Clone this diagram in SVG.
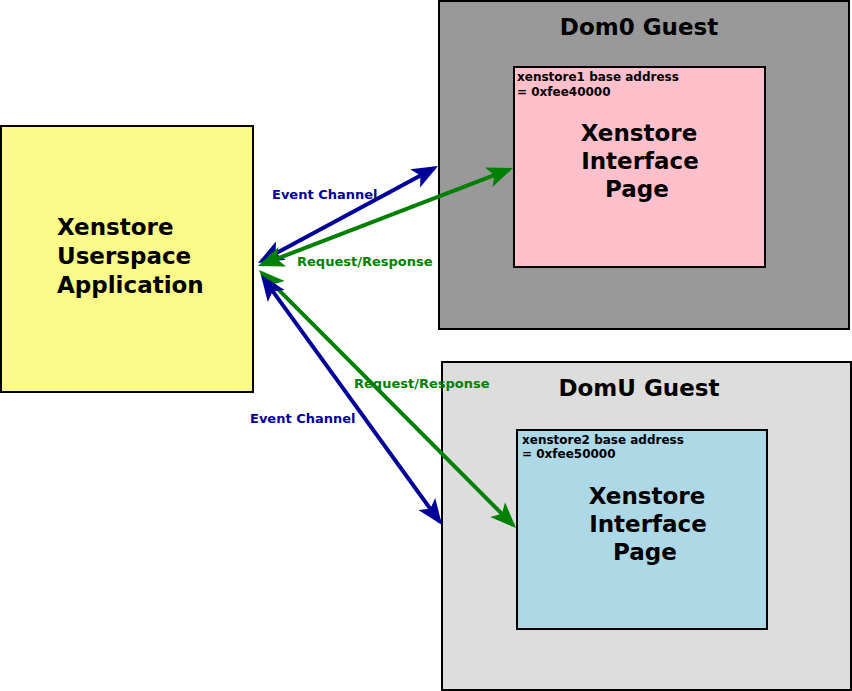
<svg xmlns="http://www.w3.org/2000/svg" width="852" height="691" viewBox="0 0 852 691">
<defs>
<style>
text{font-family:"DejaVu Sans",sans-serif;font-weight:bold}
.big{font-size:23px;fill:#000}
.title{font-size:23px;fill:#000;text-anchor:middle}
.small{font-size:12px;fill:#000}
.lbl{font-size:13px}
.box{stroke:#000;stroke-width:2}
.blue{stroke:#000099;stroke-width:4;fill:none}
.green{stroke:#008000;stroke-width:4;fill:none}
</style>
<marker id="ab" markerWidth="9" markerHeight="7" refX="0" refY="0" viewBox="-7 -3.5 9 7" orient="auto-start-reverse" markerUnits="strokeWidth">
<path d="M1,0 L-5.5,-2.6 L-4,0 L-5.5,2.6 z" fill="#000099"/>
</marker>
<marker id="ag" markerWidth="9" markerHeight="7" refX="0" refY="0" viewBox="-7 -3.5 9 7" orient="auto-start-reverse" markerUnits="strokeWidth">
<path d="M1,0 L-5.5,-2.6 L-4,0 L-5.5,2.6 z" fill="#008000"/>
</marker>
</defs>
<rect width="852" height="691" fill="#fff"/>
<g id="app">
<rect class="box" x="1" y="126" width="252" height="266" fill="#fcfa88"/>
<text class="big" x="57" y="235">Xenstore</text>
<text class="big" x="57" y="264">Userspace</text>
<text class="big" x="57" y="293">Application</text>
</g>
<g id="dom0">
<rect class="box" x="439" y="1" width="410" height="328" fill="#999999"/>
<text class="title" x="639" y="35">Dom0 Guest</text>
</g>
<g id="page1">
<rect class="box" x="514" y="67" width="251" height="200" fill="#ffc0cb"/>
<text class="small" x="517" y="81">xenstore1 base address</text>
<text class="small" x="517" y="96">= 0xfee40000</text>
<text class="big" x="639" y="141" text-anchor="middle">Xenstore</text>
<text class="big" x="640" y="169" text-anchor="middle">Interface</text>
<text class="big" x="637" y="197" text-anchor="middle">Page</text>
</g>
<g id="domu">
<rect class="box" x="442" y="362" width="409" height="328" fill="#dddddd"/>
<text class="title" x="639" y="396">DomU Guest</text>
</g>
<g id="page2">
<rect class="box" x="517" y="430" width="250" height="199" fill="#add8e6"/>
<text class="small" x="522" y="444">xenstore2 base address</text>
<text class="small" x="522" y="458">= 0xfee50000</text>
<text class="big" x="647" y="504" text-anchor="middle">Xenstore</text>
<text class="big" x="648" y="532" text-anchor="middle">Interface</text>
<text class="big" x="645" y="560" text-anchor="middle">Page</text>
</g>
<g id="connectors">
<line class="blue" x1="261.5" y1="261.1" x2="434.5" y2="167.9" marker-start="url(#ab)" marker-end="url(#ab)"/>
<line class="green" x1="261.7" y1="264.6" x2="509.3" y2="169.4" marker-start="url(#ag)" marker-end="url(#ag)"/>
<line class="green" x1="261.8" y1="272.8" x2="513.2" y2="525.2" marker-start="url(#ag)" marker-end="url(#ag)"/>
<line class="blue" x1="263.3" y1="278.2" x2="439.7" y2="521.8" marker-start="url(#ab)" marker-end="url(#ab)"/>
<text class="lbl" x="272" y="199" fill="#000099">Event Channel</text>
<text class="lbl" x="297" y="266" fill="#008000">Request/Response</text>
<text class="lbl" x="354" y="388" fill="#008000">Request/Response</text>
<text class="lbl" x="250" y="423" fill="#000099">Event Channel</text>
</g>
</svg>
